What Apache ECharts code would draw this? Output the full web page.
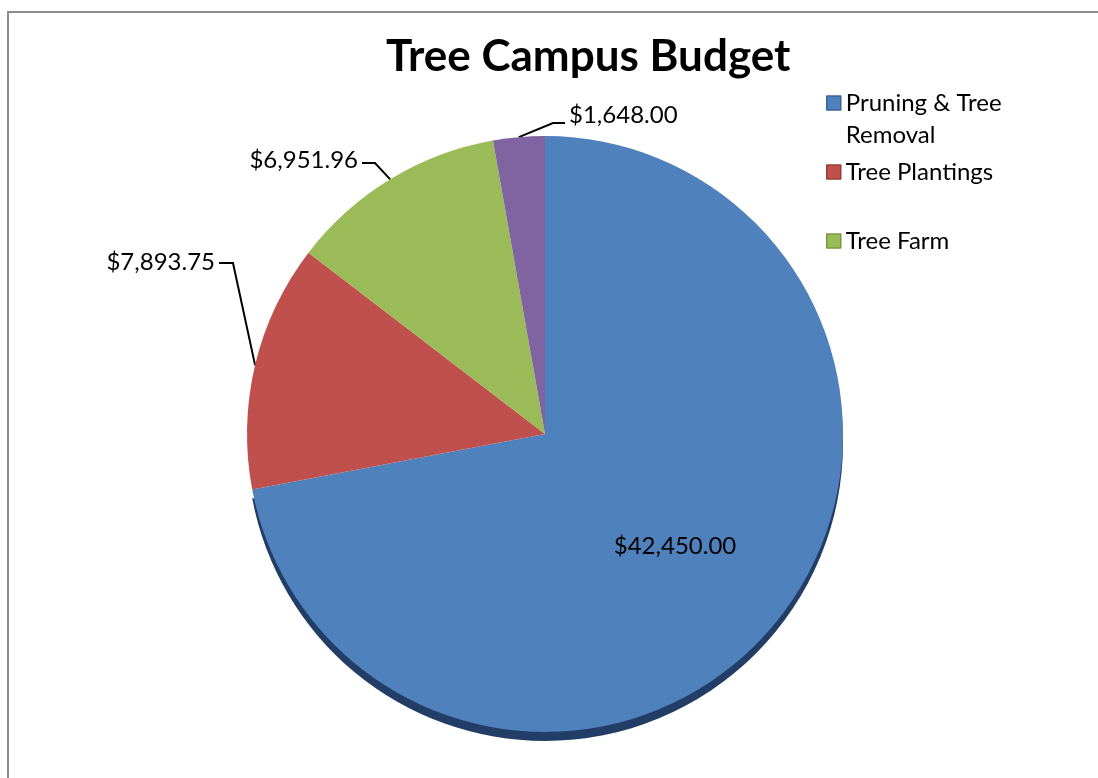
<!DOCTYPE html>
<html>
<head>
<meta charset="utf-8">
<title>Tree Campus Budget</title>
<script src="https://cdn.jsdelivr.net/npm/echarts@6/dist/echarts.min.js"></script>
<style>
  html, body { margin: 0; padding: 0; background: #fff; overflow: hidden; }
  #frame {
    position: absolute; left: 7px; top: 11px; width: 1200px; height: 900px;
    border: 2px solid #8c8c8c; box-sizing: border-box; pointer-events: none;
  }
  #chart { position: absolute; left: 0; top: 0; width: 1098px; height: 778px; }
</style>
</head>
<body>
<div id="chart"></div>
<div id="frame"></div>
<script>
// Budget categories and amounts (USD)
const categories = ['Pruning & Tree Removal', 'Tree Plantings', 'Tree Farm', 'Other'];
const amounts = [42450.00, 7893.75, 6951.96, 1648.00];
const legendNames = ['Pruning & Tree Removal', 'Tree Plantings', 'Tree Farm'];

const fills = ['#4F81BD', '#C0504D', '#9BBB59', '#8064A2'];
const edges = ['#3A6597', '#9B3B38', '#789A3E', '#604A80'];

const FONT = 'Lato, "Noto Sans", sans-serif';

function money(v) {
  return '$' + v.toLocaleString('en-US', { minimumFractionDigits: 2, maximumFractionDigits: 2 });
}

// Where each value label sits and how its leader line bends
const labelPlacement = [
  { x: 675, y: 546, align: 'center' },
  { x: 215, y: 262, align: 'right', elbow: [233, 263], end: [219, 263] },
  { x: 358, y: 160, align: 'right', elbow: [375, 163], end: [362, 163] },
  { x: 569, y: 115, align: 'left', elbow: [553, 123], end: [565, 123] }
];

const pieData = categories.map((name, i) => ({
  name: name,
  value: amounts[i],
  itemStyle: i === 0
    ? { color: fills[i], shadowColor: '#223D66', shadowOffsetY: 9, shadowBlur: 0 }
    : { color: fills[i] },
  label: i === 0 ? { position: 'inside' } : { position: 'outside' },
  labelLine: { show: i !== 0 }
}));

// The two-line entry gets an empty leading line so its first line sits level with the swatch
function legendFor(name, top) {
  const i = categories.indexOf(name);
  return {
    orient: 'vertical',
    left: 826,
    top: top,
    padding: 0,
    itemWidth: 14,
    itemHeight: 14,
    itemGap: 0,
    icon: 'rect',
    selectedMode: false,
    data: [{ name: name, itemStyle: { color: fills[i], borderColor: edges[i], borderWidth: 1.5 } }],
    formatter: n => n === 'Pruning & Tree Removal' ? '\nPruning & Tree\nRemoval' : n,
    textStyle: { fontFamily: FONT, fontSize: 24, color: '#000', lineHeight: 32 }
  };
}

const chart = echarts.init(document.getElementById('chart'), null, { renderer: 'canvas' });
chart.setOption({
  animation: false,
  backgroundColor: '#fff',
  title: {
    text: 'Tree Campus Budget',
    left: 386,
    top: 35,
    padding: 0,
    textStyle: { fontFamily: FONT, fontWeight: 'bold', fontSize: 44, color: '#000' }
  },
  legend: [
    legendFor(legendNames[0], 55),
    legendFor(legendNames[1], 156),
    legendFor(legendNames[2], 225)
  ],
  series: [{
    type: 'pie',
    center: [545, 434],
    radius: [0, 298],
    startAngle: 90,
    clockwise: true,
    avoidLabelOverlap: false,
    data: pieData,
    itemStyle: { borderWidth: 0 },
    label: {
      formatter: p => money(p.value),
      fontFamily: FONT, fontSize: 24, color: '#000'
    },
    labelLine: { lineStyle: { color: '#000', width: 2 } },
    labelLayout: function (p) {
      const spot = labelPlacement[p.dataIndex];
      const out = { x: spot.x, y: spot.y, align: spot.align, verticalAlign: 'middle' };
      if (spot.elbow && p.labelLinePoints) {
        out.labelLinePoints = [p.labelLinePoints[0], spot.elbow, spot.end];
      }
      return out;
    }
  }]
});
</script>
</body>
</html>
